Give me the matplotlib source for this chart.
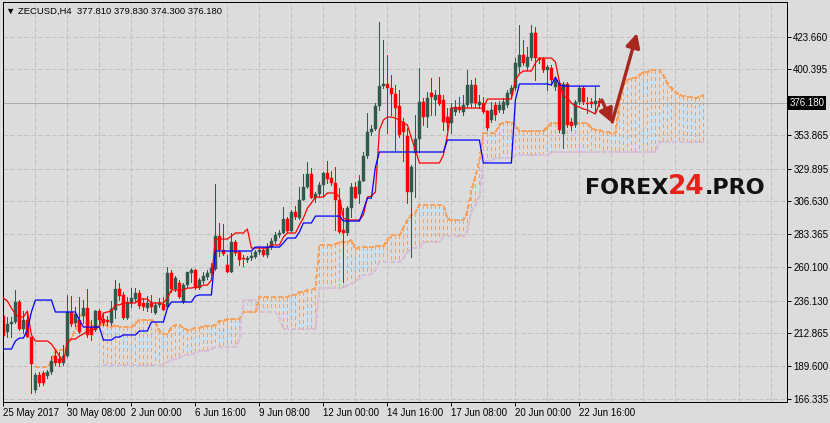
import matplotlib
matplotlib.use('Agg')
import matplotlib.pyplot as plt
import matplotlib.transforms as mtransforms
from matplotlib.collections import LineCollection
from matplotlib.offsetbox import TextArea, HPacker, AnchoredOffsetbox
import numpy as np

plt.rcParams['font.family'] = ['Liberation Sans', 'DejaVu Sans']

# ZECUSD H4 candles
open_ = [225.2, 213.9, 219.6, 221.0, 235.2, 216.0, 222.4, 210.3, 172.7, 183.4,
         184.8, 182.6, 185.5, 196.9, 194.7, 192.0, 196.9, 228.1, 220.3, 222.4,
         225.2, 230.9, 217.5, 215.3, 228.8, 223.1, 222.4, 220.3, 229.5, 244.4,
         240.2, 223.8, 234.5, 237.3, 241.6, 234.5, 230.9, 234.5, 227.4, 233.1,
         233.8, 231.6, 255.8, 244.4, 248.7, 235.2, 247.2, 255.8, 257.9, 245.1,
         250.1, 252.9, 255.8, 258.6, 282.0, 272.1, 261.4, 256.5, 277.8, 270.7,
         266.4, 265.0, 266.4, 267.1, 270.7, 272.1, 268.6, 274.2, 278.5, 282.8,
         284.2, 294.1, 285.6, 299.1, 294.8, 307.6, 316.8, 326.1, 309.0, 311.9,
         318.2, 326.8, 323.2, 319.7, 307.6, 286.3, 284.2, 301.9, 316.8, 311.9,
         321.1, 338.8, 355.9, 358.0, 374.3, 388.5, 390.0, 387.1, 382.9, 374.3,
         363.0, 353.0, 313.3, 341.0, 350.9, 377.2, 366.5, 383.6, 378.6, 382.2,
         378.6, 366.5, 362.3, 370.1, 373.6, 370.1, 375.1, 376.5, 389.3, 375.1,
         376.5, 370.8, 364.4, 375.1, 371.5, 371.5, 375.1, 382.9, 387.1, 402.0,
         410.5, 402.0, 408.4, 426.2, 408.4, 407.7, 399.9, 401.3, 387.8, 390.7,
         354.5, 390.0, 363.0, 360.9, 377.2, 387.1, 376.5, 377.2, 375.8, 377.81]
high = [245.8, 224.5, 224.5, 243.7, 236.6, 228.8, 228.8, 210.3, 184.8, 185.5,
        186.2, 187.0, 196.9, 201.1, 199.7, 204.7, 240.2, 239.4, 231.6, 238.7,
        236.6, 244.4, 222.4, 229.5, 230.2, 227.4, 225.2, 235.9, 250.8, 248.7,
        242.3, 238.7, 245.1, 245.1, 243.7, 238.0, 239.4, 240.2, 235.2, 238.0,
        238.7, 260.0, 257.9, 253.6, 250.8, 248.7, 256.5, 259.3, 258.6, 252.2,
        256.5, 257.9, 262.9, 319.0, 291.3, 290.6, 268.6, 284.2, 279.2, 272.1,
        268.6, 267.9, 270.7, 272.1, 273.5, 273.5, 277.1, 280.6, 284.9, 286.3,
        302.6, 295.5, 300.5, 303.3, 316.8, 326.1, 334.6, 330.3, 313.3, 320.4,
        327.5, 335.3, 328.2, 331.0, 316.1, 301.9, 303.3, 319.7, 320.4, 325.4,
        341.7, 369.4, 360.9, 376.5, 434.0, 421.2, 410.5, 396.4, 389.3, 385.7,
        365.8, 358.7, 332.5, 368.0, 401.3, 380.0, 384.3, 394.2, 385.7, 394.9,
        382.2, 372.9, 376.5, 378.6, 380.7, 382.2, 399.9, 392.8, 394.2, 382.2,
        380.7, 371.5, 377.2, 377.2, 377.9, 380.0, 385.7, 389.3, 408.4, 431.9,
        421.2, 416.2, 431.9, 430.4, 409.1, 409.1, 403.4, 403.4, 394.2, 392.8,
        391.4, 391.4, 365.8, 378.6, 388.5, 388.5, 380.7, 380.0, 387.8, 379.83]
low = [210.3, 210.3, 210.3, 220.3, 215.3, 213.2, 210.3, 170.6, 171.3, 175.5,
       176.3, 181.2, 184.1, 190.5, 189.8, 190.5, 196.1, 218.2, 218.2, 213.2,
       220.3, 210.3, 208.2, 214.6, 220.3, 218.9, 218.9, 218.9, 223.8, 236.6,
       223.1, 223.1, 231.6, 235.2, 230.9, 229.5, 228.8, 228.1, 226.7, 231.6,
       229.5, 231.6, 242.3, 243.0, 238.0, 234.5, 245.8, 249.4, 244.4, 244.4,
       248.7, 251.5, 254.4, 257.9, 267.9, 268.6, 256.5, 256.5, 268.6, 261.4,
       260.7, 263.6, 265.0, 266.4, 269.3, 267.9, 267.1, 272.8, 277.1, 281.3,
       284.2, 284.9, 284.9, 294.1, 294.1, 307.6, 316.1, 309.0, 306.2, 309.7,
       311.2, 319.7, 318.2, 286.3, 284.2, 249.4, 282.8, 295.5, 309.0, 305.5,
       321.1, 337.4, 353.8, 357.3, 371.5, 387.1, 355.2, 368.0, 342.4, 352.3,
       335.3, 305.5, 267.1, 309.7, 341.7, 360.9, 359.4, 368.0, 368.0, 375.1,
       357.3, 357.3, 355.2, 368.0, 370.1, 368.0, 373.6, 373.6, 373.6, 372.9,
       369.4, 357.3, 363.0, 364.4, 370.1, 369.4, 373.6, 380.7, 385.7, 398.5,
       403.4, 399.9, 407.0, 392.8, 404.9, 398.5, 385.7, 389.3, 385.7, 355.9,
       344.5, 359.4, 357.3, 359.4, 375.8, 375.8, 369.4, 373.6, 369.4, 374.30]
close = [211.0, 219.6, 221.0, 235.2, 216.0, 222.4, 210.3, 191.2, 183.4, 177.7,
         177.7, 185.5, 193.3, 192.0, 192.0, 196.9, 228.1, 219.6, 226.7, 213.9,
         230.9, 211.8, 211.8, 228.8, 222.4, 220.3, 221.0, 230.2, 244.4, 239.4,
         223.8, 235.2, 238.0, 241.6, 232.3, 231.6, 234.5, 231.6, 233.1, 234.5,
         229.5, 255.8, 244.4, 252.2, 238.7, 247.2, 256.5, 257.9, 245.1, 250.8,
         253.6, 255.8, 259.3, 282.0, 272.1, 269.3, 256.5, 277.8, 270.0, 265.0,
         265.7, 266.4, 267.9, 270.7, 272.1, 268.6, 274.2, 278.5, 282.8, 284.2,
         294.1, 285.6, 299.1, 295.5, 307.6, 316.8, 326.1, 309.0, 311.9, 318.2,
         326.8, 322.5, 319.7, 307.6, 284.9, 284.2, 301.9, 316.8, 309.0, 321.1,
         338.8, 355.9, 358.0, 374.3, 388.5, 390.0, 387.1, 382.9, 372.9, 353.8,
         355.9, 313.3, 331.0, 350.9, 377.2, 366.5, 380.0, 380.7, 382.2, 375.8,
         363.0, 362.3, 372.9, 373.6, 371.5, 375.1, 389.3, 389.3, 376.5, 377.2,
         370.1, 358.7, 371.5, 368.0, 375.1, 377.2, 383.6, 387.1, 404.9, 410.5,
         404.9, 409.1, 426.2, 408.4, 407.0, 399.9, 402.0, 392.8, 392.8, 357.3,
         390.0, 360.9, 360.1, 377.2, 387.1, 377.2, 375.8, 375.8, 377.9, 376.18]

# Ichimoku lines
tenkan = [238.0, 235.9, 230.9, 226.7, 224.5, 224.5, 228.8, 211.8, 207.5, 207.5,
          207.5, 207.5, 205.4, 201.1, 196.9, 192.6, 206.8, 208.9, 208.9, 211.0,
          212.5, 214.6, 215.3, 216.0, 218.1, 227.4, 228.1, 228.8, 233.1, 233.1,
          234.5, 234.5, 234.5, 234.5, 237.3, 237.3, 237.3, 234.5, 234.5, 234.5,
          234.5, 238.0, 243.7, 243.7, 243.7, 243.7, 245.1, 245.1, 245.8, 245.8,
          247.2, 247.2, 250.8, 279.9, 279.9, 279.9, 279.9, 282.0, 284.2, 284.2,
          284.2, 287.0, 273.5, 273.5, 273.5, 273.5, 273.5, 275.7, 275.7, 275.7,
          281.3, 284.2, 284.2, 284.2, 289.9, 294.8, 301.9, 305.5, 309.7, 309.7,
          309.7, 312.6, 312.6, 312.6, 309.7, 294.8, 293.4, 293.4, 293.4, 293.4,
          297.0, 309.7, 310.4, 313.3, 357.3, 364.4, 366.5, 366.5, 365.8, 364.4,
          362.3, 360.9, 351.6, 343.1, 333.9, 333.9, 333.9, 333.9, 333.9, 333.9,
          339.6, 353.8, 372.9, 372.9, 372.9, 372.9, 372.9, 372.9, 372.9, 372.9,
          372.9, 379.3, 379.3, 379.3, 379.3, 379.3, 379.3, 379.3, 392.8, 397.1,
          399.2, 399.2, 399.2, 404.9, 408.4, 408.4, 408.4, 408.4, 405.6, 391.4,
          381.4, 380.0, 376.5, 374.3, 373.6, 372.2, 371.5, 370.1, 368.7, 376.5]
kijun = [201.8, 201.8, 201.8, 207.5, 209.6, 209.6, 215.3, 228.1, 236.6, 236.6,
         236.6, 236.6, 236.6, 228.1, 228.1, 228.1, 228.1, 228.1, 228.1, 222.4,
         217.4, 217.4, 217.4, 217.4, 217.4, 208.2, 208.2, 208.2, 210.3, 210.3,
         211.8, 211.8, 211.8, 211.8, 214.6, 214.6, 214.6, 221.0, 221.0, 221.0,
         221.0, 230.9, 235.2, 235.2, 235.2, 235.2, 235.2, 235.2, 239.4, 240.2,
         240.2, 240.2, 240.2, 271.4, 271.4, 271.4, 271.4, 271.4, 271.4, 271.4,
         271.4, 271.4, 271.4, 274.2, 274.2, 274.2, 274.2, 274.2, 274.2, 274.2,
         277.1, 280.6, 280.6, 280.6, 284.9, 291.3, 291.3, 291.3, 296.2, 296.2,
         296.2, 296.2, 296.2, 296.2, 296.2, 292.7, 292.7, 292.7, 292.7, 292.7,
         300.5, 309.0, 309.0, 331.0, 341.7, 341.7, 341.7, 341.7, 341.7, 341.7,
         341.7, 341.7, 341.7, 341.7, 341.7, 341.7, 341.7, 341.7, 341.7, 341.7,
         341.7, 350.2, 350.2, 350.2, 350.2, 350.2, 350.2, 350.2, 350.2, 350.2,
         333.9, 333.9, 333.9, 333.9, 333.9, 333.9, 333.9, 333.9, 378.6, 390.0,
         390.0, 390.0, 390.0, 390.0, 390.0, 390.0, 390.0, 389.3, 394.9, 389.3,
         388.5, 388.5, 388.5, 388.5, 388.5, 388.5, 388.5, 388.5, 388.5, 388.5]
span_a_start = 8
span_a = [189.0, 189.0, 189.0, 189.0, 192.6, 201.1, 201.1, 201.1, 204.7, 209.6,
          215.3, 223.8, 228.1, 223.8, 218.1, 218.1, 218.1, 219.6, 218.1, 217.4,
          218.9, 217.4, 217.4, 217.4, 217.4, 220.3, 222.4, 222.4, 222.4, 222.4,
          221.0, 214.6, 212.5, 212.5, 217.4, 218.9, 218.9, 216.7, 215.3, 216.0,
          216.7, 216.7, 218.1, 218.1, 218.1, 218.9, 221.7, 221.7, 223.1, 223.1,
          223.1, 223.1, 228.1, 228.1, 228.1, 228.1, 238.7, 238.7, 238.7, 238.7,
          238.7, 238.7, 238.7, 238.7, 240.2, 240.2, 242.3, 242.3, 243.7, 243.7,
          245.1, 275.7, 275.7, 275.7, 275.7, 276.4, 277.8, 277.8, 277.8, 279.2,
          272.8, 274.2, 274.2, 274.2, 274.2, 274.9, 274.9, 274.9, 279.2, 282.7,
          282.7, 282.7, 287.7, 293.4, 297.0, 298.4, 304.0, 304.0, 304.0, 304.0,
          304.0, 304.0, 304.0, 294.1, 293.4, 293.4, 293.4, 293.4, 299.1, 314.7,
          324.0, 336.0, 355.2, 355.2, 355.2, 355.2, 360.9, 363.0, 363.0, 363.0,
          360.9, 356.6, 356.6, 356.6, 356.6, 356.6, 356.6, 356.6, 359.4, 362.3,
          362.3, 362.3, 362.3, 362.3, 362.3, 362.3, 362.3, 362.3, 362.3, 358.7,
          357.3, 357.3, 355.9, 355.9, 355.2, 355.2, 375.1, 389.3, 392.8, 394.2,
          394.2, 396.4, 398.5, 398.5, 399.9, 399.9, 399.9, 396.4, 390.7, 387.1,
          384.3, 382.2, 381.4, 380.7, 380.7, 380.0, 380.7, 382.2]
span_b_start = 25
span_b = [190.5, 190.5, 190.5, 190.5, 190.5, 190.5, 190.5, 190.5, 190.5, 190.5,
          190.5, 190.5, 190.5, 190.5, 190.5, 190.5, 192.6, 194.0, 194.7, 195.4,
          197.6, 197.6, 198.3, 199.0, 200.4, 200.4, 200.4, 201.8, 203.2, 203.2,
          203.2, 203.2, 203.2, 203.2, 208.2, 236.6, 236.6, 236.6, 236.6, 228.1,
          228.1, 228.1, 228.1, 228.1, 223.8, 216.0, 216.0, 216.0, 216.0, 216.0,
          216.0, 216.0, 216.0, 216.0, 245.1, 245.1, 245.1, 245.1, 245.1, 245.1,
          245.1, 247.2, 248.0, 250.1, 251.5, 254.4, 254.4, 255.1, 257.9, 263.6,
          263.6, 263.6, 263.6, 263.6, 263.6, 266.4, 270.7, 273.5, 273.5, 273.5,
          277.8, 277.8, 277.8, 277.8, 277.8, 282.0, 282.0, 282.0, 282.0, 282.0,
          282.0, 285.6, 299.8, 304.0, 309.7, 335.3, 335.3, 335.3, 337.4, 337.4,
          337.4, 337.4, 337.4, 339.6, 339.6, 339.6, 339.6, 339.6, 339.6, 339.6,
          339.6, 339.6, 341.7, 341.7, 341.7, 341.7, 341.7, 341.7, 341.7, 341.7,
          341.7, 341.7, 341.7, 341.7, 341.7, 341.7, 341.7, 341.7, 341.7, 341.7,
          341.7, 341.7, 341.7, 341.7, 341.7, 341.7, 341.7, 341.7, 341.7, 348.8,
          348.8, 348.8, 348.8, 348.8, 348.8, 348.8, 348.8, 348.8, 348.8, 348.8,
          348.8]

last_price = 376.18
price_ticks = [166.335, 189.600, 212.865, 236.130, 260.100, 283.365, 306.630,
               329.895, 353.865, 400.395, 423.660]
date_labels = ['25 May 2017', '30 May 08:00', '2 Jun 00:00', '6 Jun 16:00',
               '9 Jun 08:00', '12 Jun 00:00', '14 Jun 16:00', '17 Jun 08:00',
               '20 Jun 00:00', '22 Jun 16:00']
title = '\u25bc ZECUSD,H4  377.810 379.830 374.300 376.180'

bg = '#dcdcdc'
bull = '#2f5a4c'
bear = '#ff0000'
orange = '#f4a460'
thistle = '#d8bfd8'
px = 0.72  # one pixel in points at 100 dpi

fig = plt.figure(figsize=(8.3, 4.23), dpi=100, facecolor=bg)
ax = fig.add_axes([3 / 830, 21 / 423, 784 / 830, 400 / 423], facecolor=bg)

o = np.array(open_)
h = np.array(high)
l = np.array(low)
c = np.array(close)
x = np.arange(len(c))

# cloud: vertical dashed hatching between span A and span B (no antialiasing, like MT4)
a_full = np.full(176, np.nan)
a_full[span_a_start:span_a_start + len(span_a)] = span_a
b_full = np.full(176, np.nan)
b_full[span_b_start:span_b_start + len(span_b)] = span_b
xc = np.arange(176)
dash = (0, (4, 3))
segs, seg_cols = [], []
for i in xc[~np.isnan(a_full) & ~np.isnan(b_full)]:
    segs.append([(i, a_full[i]), (i, b_full[i])])
    seg_cols.append(orange if a_full[i] >= b_full[i] else thistle)
hatch = LineCollection(segs, colors=seg_cols, linewidths=px, linestyles=[dash],
                       antialiaseds=False, zorder=1)
ax.add_collection(hatch)
ax.plot(xc, a_full, color=orange, lw=1.0, ls=(0, (3, 2)), antialiased=False, zorder=1.5)
ax.plot(xc, b_full, color=thistle, lw=1.0, ls=(0, (3, 2)), antialiased=False, zorder=1.5)

# current price line
ax.axhline(last_price, color='#ababab', lw=px, antialiased=False, zorder=1.8)

# candles
cols = np.where(c >= o, bull, bear).tolist()
ax.vlines(x, l, h, colors=cols, lw=px, antialiased=False, zorder=2)
body = np.maximum(np.abs(c - o), 0.6)
ax.bar(x, body, bottom=np.minimum(o, c), width=0.7, color=cols, edgecolor=cols,
       linewidth=0.3, zorder=2.1)

# tenkan / kijun
ax.plot(x, tenkan, color='#ff0000', lw=0.9, zorder=3)
ax.plot(x, kijun, color='#0000ff', lw=0.9, zorder=3)

# forecast arrows
arrow_col = '#a8281f'
ax.annotate('', xy=(152.2, 362.3), xytext=(149.6, 378.6),
            arrowprops=dict(arrowstyle='-|>,head_length=0.6,head_width=0.3', color=arrow_col,
                            lw=2.4, shrinkA=0, shrinkB=0, mutation_scale=14), zorder=4)
ax.annotate('', xy=(158.4, 426.2), xytext=(152.2, 363.0),
            arrowprops=dict(arrowstyle='-|>,head_length=0.6,head_width=0.3', color=arrow_col,
                            lw=2.4, shrinkA=0, shrinkB=0, mutation_scale=14), zorder=4)

ax.set_xlim(-0.1, 195.9)
ax.set_ylim(164.2, 448.2)

ax.set_xticks(np.arange(0, 160, 16))
ax.set_xticklabels(date_labels, ha='left')
ax.set_xticks(np.arange(8, 196, 8), minor=True)
ax.yaxis.tick_right()
ax.set_yticks(price_ticks)
ax.set_yticklabels(['%.3f' % v for v in price_ticks])
ax.tick_params(axis='both', which='major', length=3, width=px, color='black',
               labelsize=7, pad=1.5, labelcolor='black')
ax.tick_params(axis='x', which='minor', length=0)
ax.grid(axis='x', which='both', color='#c2c2c2', ls=(0, (3, 2)), lw=1.0, antialiased=False)
ax.grid(axis='y', which='major', color='#c2c2c2', ls=(0, (3, 2)), lw=1.0, antialiased=False)
ax.set_axisbelow(True)
for sp in ax.spines.values():
    sp.set_color('black')
    sp.set_linewidth(px)

# last price tag on the right scale
trans = mtransforms.blended_transform_factory(ax.transAxes, ax.transData)
ax.text(1.003, last_price, '%.3f' % last_price, transform=trans, ha='left', va='center',
        color='white', fontsize=7, clip_on=False,
        bbox=dict(boxstyle='square,pad=0.2', fc='black', ec='none'))

fig.text(6 / 830, 1 - 11 / 423, title, fontsize=6.8, va='center', color='black')

# watermark
wm_font = dict(family='DejaVu Sans', fontweight='heavy')
parts = [TextArea('FOREX', textprops=dict(color='#111111', fontsize=16, **wm_font)),
         TextArea('24', textprops=dict(color='#e8201a', fontsize=19, **wm_font)),
         TextArea('.PRO', textprops=dict(color='#111111', fontsize=16, **wm_font))]
pack = HPacker(children=parts, align='baseline', pad=0, sep=0)
wm = AnchoredOffsetbox(loc='center', child=pack, pad=0, borderpad=0, frameon=False,
                       bbox_to_anchor=(675 / 830, 1 - 187 / 423),
                       bbox_transform=fig.transFigure)
wm.set_zorder(5)
ax.add_artist(wm)

fig.savefig('out.png', dpi=100, facecolor=bg)
